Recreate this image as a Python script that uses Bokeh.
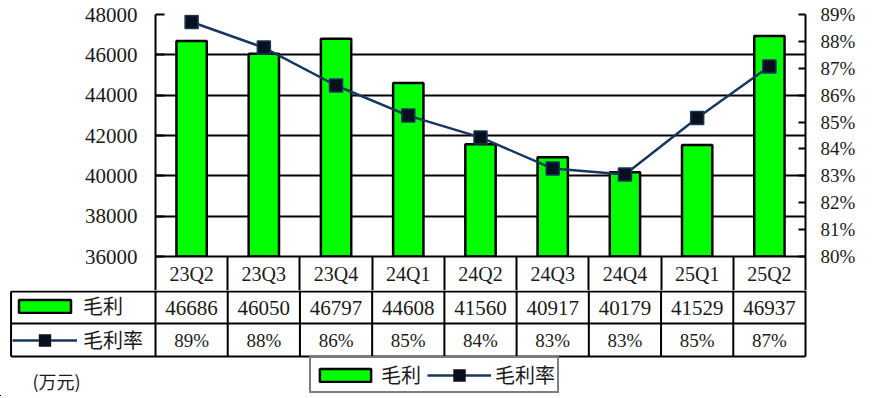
import numpy as np
from bokeh.plotting import figure
from bokeh.models import (Range1d, LinearAxis, FixedTicker, Grid, Legend, LegendItem,
                          Label, PrintfTickFormatter)
from bokeh.layouts import column
from bokeh.embed import file_html
from bokeh.resources import INLINE
from bokeh.core.properties import value

# ---------------- data ----------------
quarters = ["23Q2", "23Q3", "23Q4", "24Q1", "24Q2", "24Q3", "24Q4", "25Q1", "25Q2"]
gross_profit = [46686, 46050, 46797, 44608, 41560, 40917, 40179, 41529, 46937]
gross_margin = [88.72, 87.77, 86.36, 85.24, 84.43, 83.27, 83.05, 85.15, 87.07]
left_ticks = [36000, 38000, 40000, 42000, 44000, 46000, 48000]
right_ticks = [80, 81, 82, 83, 84, 85, 86, 87, 88, 89]
series_names = ["毛利", "毛利率"]
unit_label = "(万元)"

# ---------------- style / layout ----------------
W = 866
TOP_H, BOT_H = 290, 106
FRAME_L, FRAME_R = 155, 61
FRAME_T, FRAME_B = 14, 34
GREEN = "#00FF00"
NAVY = "#17375E"
MARK = "#0A0F1E"
TXT = "#1a1a1a"
NUM = "Liberation Serif"
CJK = "Noto Sans CJK SC"

n = len(quarters)
xc = np.arange(n) + 0.5
frame_w = W - FRAME_L - FRAME_R
cw = frame_w / n

# ---------------- top chart ----------------
p = figure(width=W, height=TOP_H, output_backend="svg", toolbar_location=None,
           x_range=Range1d(0, n), y_range=Range1d(left_ticks[0], left_ticks[-1]),
           min_border_left=FRAME_L, min_border_right=FRAME_R,
           min_border_top=FRAME_T, min_border_bottom=FRAME_B,
           x_axis_location=None, y_axis_location="left")
p.frame_align = False
p.outline_line_color = None
p.background_fill_color = "white"
p.border_fill_color = "white"
p.extra_y_ranges = {"rate": Range1d(right_ticks[0], right_ticks[-1])}

# grid
p.xgrid.visible = False
p.ygrid.ticker = FixedTicker(ticks=left_ticks[1:-1])
p.ygrid.grid_line_color = "black"
p.ygrid.grid_line_width = 2
top_grid = Grid(dimension=1, ticker=FixedTicker(ticks=[left_ticks[-1]]),
                grid_line_color="#8c8c8c", grid_line_width=2)
p.add_layout(top_grid, "center")

# left axis
ya = p.yaxis[0]
ya.ticker = FixedTicker(ticks=left_ticks)
ya.axis_line_width = 2
ya.axis_line_color = "black"
ya.major_tick_in = 9
ya.major_tick_out = 0
ya.major_tick_line_width = 2
ya.minor_tick_line_color = None
ya.major_label_standoff = 18
ya.major_label_text_font = NUM
ya.major_label_text_font_size = "21px"
ya.major_label_text_color = TXT

# right axis
ra = LinearAxis(y_range_name="rate", ticker=FixedTicker(ticks=right_ticks),
                formatter=PrintfTickFormatter(format="%d%%"))
ra.axis_line_width = 2
ra.axis_line_color = "black"
ra.major_tick_in = 7
ra.major_tick_out = 0
ra.major_tick_line_width = 2
ra.minor_tick_line_color = None
ra.major_label_standoff = 15
ra.major_label_text_font = NUM
ra.major_label_text_font_size = "19px"
ra.major_label_text_color = TXT
p.add_layout(ra, "right")

# bottom axis = category row of the data table (minor ticks = column separators)
xa = LinearAxis(ticker=FixedTicker(ticks=list(xc), minor_ticks=list(range(n + 1))),
                major_label_overrides={float(x): q for x, q in zip(xc, quarters)})
xa.axis_line_width = 2
xa.axis_line_color = "black"
xa.major_tick_line_color = None
xa.major_tick_in = 0
xa.major_tick_out = 0
xa.minor_tick_in = 0
xa.minor_tick_out = FRAME_B
xa.minor_tick_line_width = 2
xa.minor_tick_line_color = "black"
xa.major_label_standoff = -28
xa.major_label_text_font = NUM
xa.major_label_text_font_size = "20px"
xa.major_label_text_color = TXT
p.add_layout(xa, "below")

bars = p.vbar(x=xc, top=gross_profit, bottom=left_ticks[0], width=0.42,
              fill_color=GREEN, line_color="black", line_width=2.5)
ln = p.line(x=xc, y=gross_margin, y_range_name="rate", line_color=NAVY, line_width=2.5)
mk = p.scatter(x=xc, y=gross_margin, y_range_name="rate", marker="square", size=13,
               fill_color=MARK, line_color=NAVY, line_width=1.5)

# ---------------- bottom: data table rows + legend ----------------
Y0 = TOP_H  # page-pixel y of the strip's top edge
b = figure(width=W, height=BOT_H, output_backend="svg", toolbar_location=None,
           x_range=Range1d(-FRAME_L / cw, (W - FRAME_L) / cw),
           y_range=Range1d(Y0 + BOT_H, Y0),
           min_border=0, x_axis_location=None, y_axis_location=None)
b.frame_align = False
b.outline_line_color = None
b.xgrid.visible = False
b.ygrid.visible = False
b.background_fill_color = "white"
b.border_fill_color = "white"
# off-screen ranges for the legend proxies
b.extra_x_ranges = {"proxy": Range1d(1000, 1001)}
b.extra_y_ranges = {"proxy": Range1d(1e7, 1e7 + 1)}

label_cols = 2  # width of the row-header column, in category columns
row_lines = [Y0 + 1, Y0 + 33, Y0 + 66]
row_mid = [Y0 + 17, Y0 + 49.5]

# horizontal table lines
b.segment(x0=[-label_cols] * 3, x1=[n] * 3, y0=row_lines, y1=row_lines,
          line_color="black", line_width=2)
# vertical table lines
vx = [-label_cols] + list(range(n + 1))
b.segment(x0=vx, x1=vx, y0=[row_lines[0]] + [Y0] * (n + 1), y1=[row_lines[-1]] * (n + 2),
          line_color="black", line_width=2)

b.text(x=xc, y=[row_mid[0]] * n, text=[str(v) for v in gross_profit],
       text_font=value(NUM), text_font_size="21px", text_color=TXT,
       text_align="center", text_baseline="middle")
b.text(x=xc, y=[row_mid[1]] * n, text=[f"{round(v)}%" for v in gross_margin],
       text_font=value(NUM), text_font_size="19px", text_color=TXT,
       text_align="center", text_baseline="middle")

# legend proxies (same series, mapped off-screen)
bars_l = b.vbar(x=xc, top=gross_profit, bottom=left_ticks[0], width=0.42,
                x_range_name="proxy", y_range_name="proxy",
                fill_color=GREEN, line_color="black", line_width=2.5)
ln_l = b.line(x=xc, y=gross_margin, x_range_name="proxy", y_range_name="proxy",
              line_color=NAVY, line_width=2.5)
mk_l = b.scatter(x=xc, y=gross_margin, x_range_name="proxy", y_range_name="proxy",
                 marker="square", size=13,
                 fill_color=MARK, line_color=MARK, line_width=6, line_join="miter")

# row-header legend of the table
leg_tab = Legend(items=[LegendItem(label=series_names[0], renderers=[bars_l]),
                        LegendItem(label=series_names[1], renderers=[ln_l, mk_l])],
                 orientation="vertical", location=(12, BOT_H - 64),
                 glyph_width=65, glyph_height=16, label_standoff=6, spacing=5,
                 padding=0, margin=0, border_line_color=None, background_fill_alpha=0,
                 label_text_font=CJK, label_text_font_size="20px", label_text_color=TXT)
b.add_layout(leg_tab)

# boxed legend below the table
leg_bot = Legend(items=[LegendItem(label=series_names[0], renderers=[bars_l]),
                        LegendItem(label=series_names[1], renderers=[ln_l, mk_l])],
                 orientation="horizontal", location=(309, 3),
                 glyph_width=64, glyph_height=16, label_standoff=4, spacing=6,
                 padding=2, margin=0, border_line_color="black", border_line_width=2,
                 background_fill_color="white",
                 label_text_font=CJK, label_text_font_size="20px", label_text_color=TXT)
b.add_layout(leg_bot)

b.add_layout(Label(x=32, y=Y0 + 90, x_units="screen", text=unit_label,
                   text_font=CJK, text_font_size="18px", text_color=TXT,
                   text_baseline="middle"))

layout = column(p, b, spacing=0)
open("out.html", "w").write(file_html(layout, INLINE))
